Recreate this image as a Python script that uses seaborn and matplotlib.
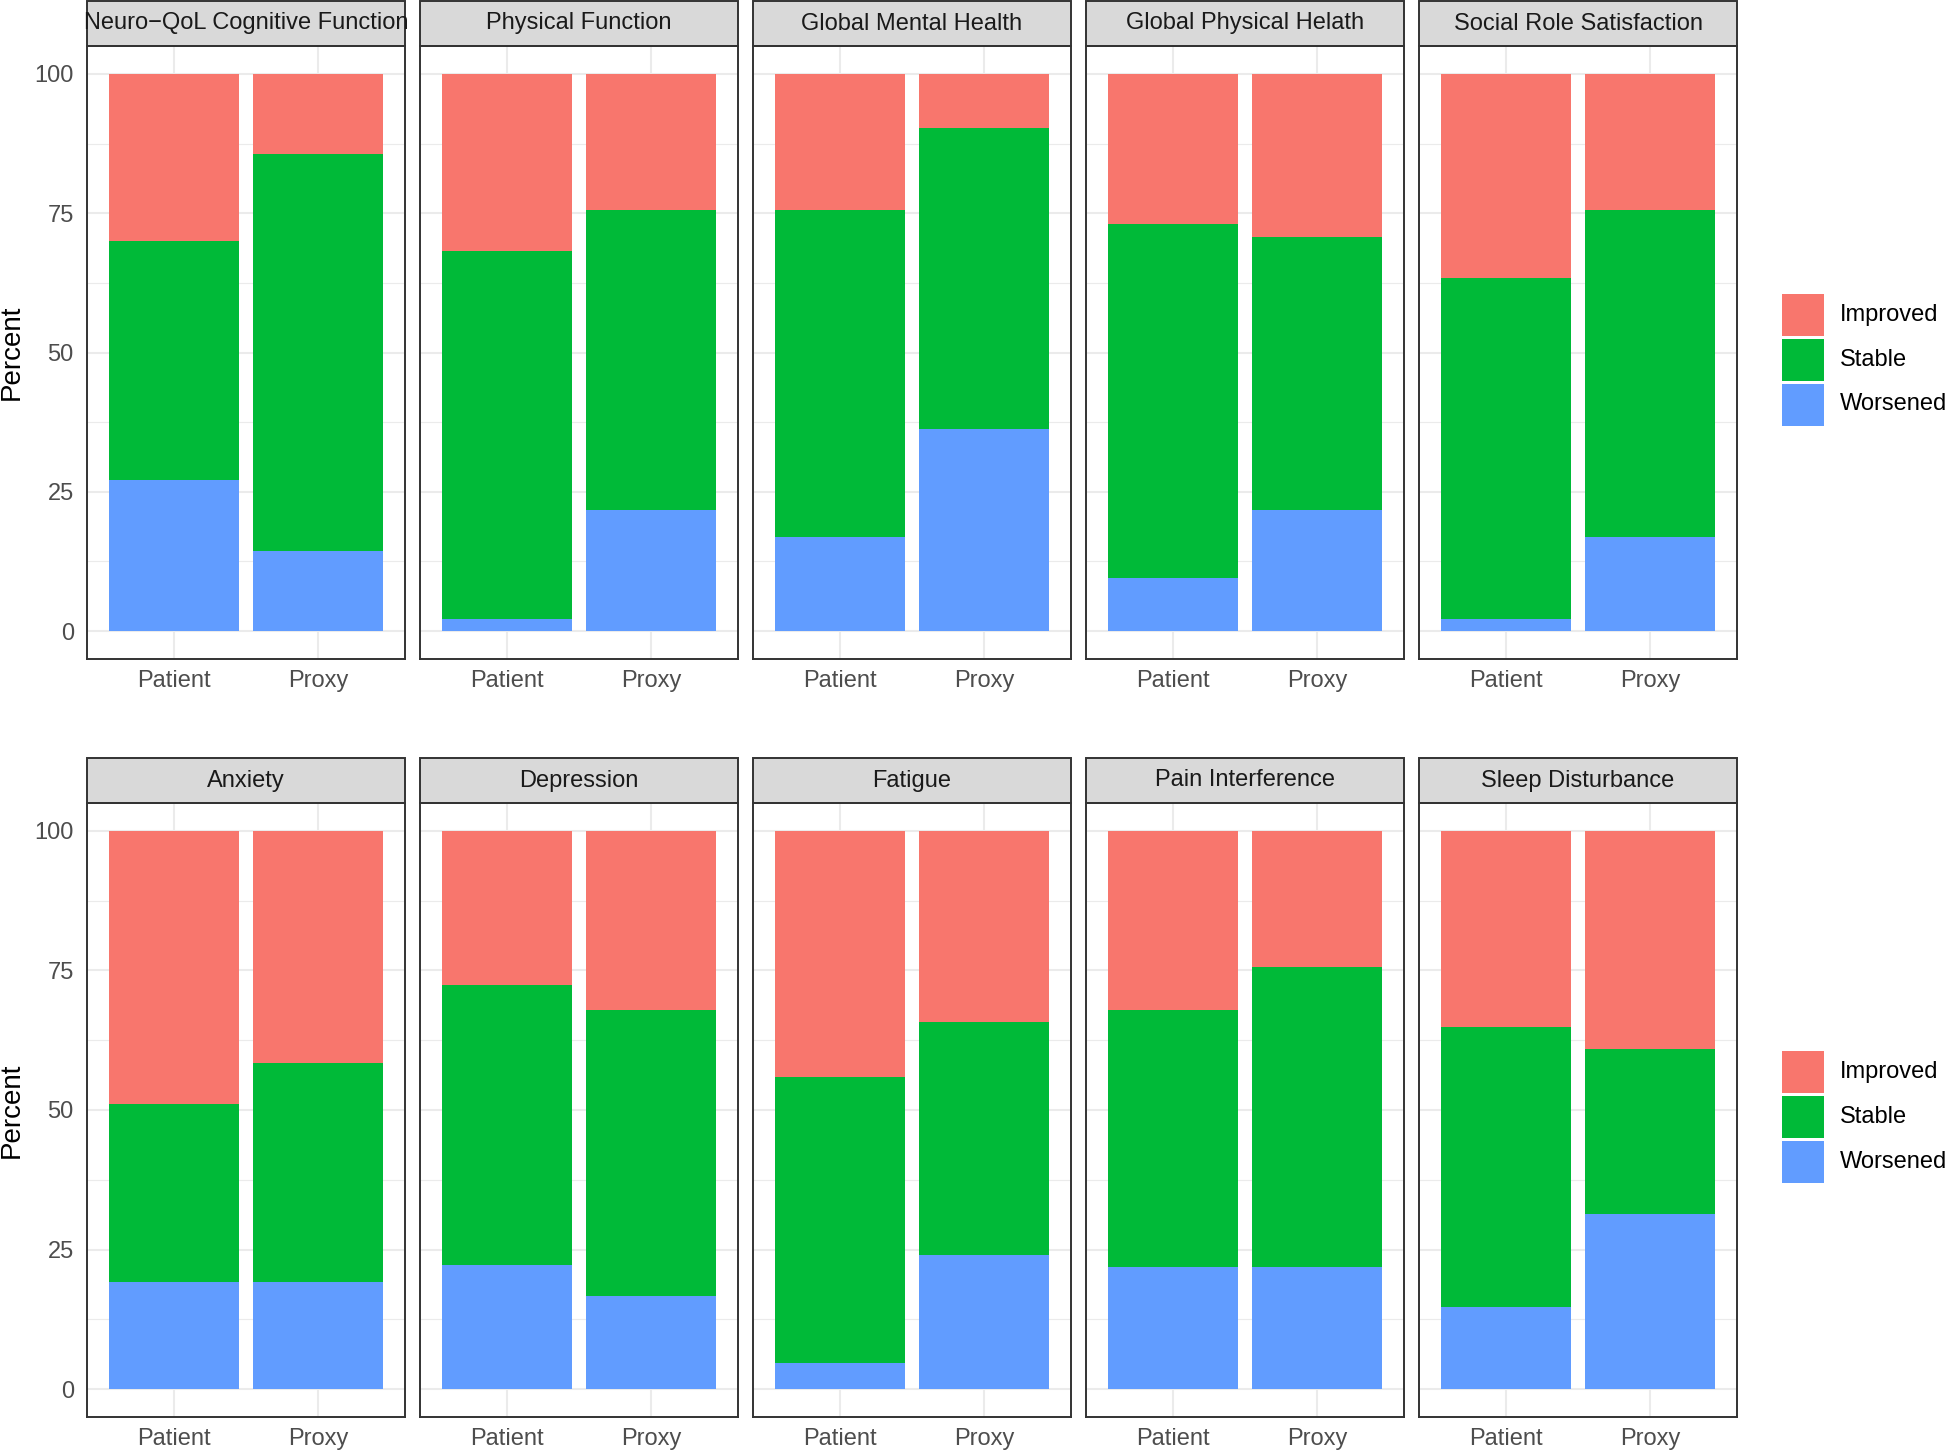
import numpy as np
import pandas as pd
import seaborn as sns
import matplotlib.pyplot as plt
from matplotlib.patches import Rectangle
from matplotlib.ticker import MultipleLocator

# ---------------- data (percent) ----------------
domains = ["Neuro\u2212QoL Cognitive Function", "Physical Function", "Global Mental Health",
           "Global Physical Helath", "Social Role Satisfaction",
           "Anxiety", "Depression", "Fatigue", "Pain Interference", "Sleep Disturbance"]
groups = ["Patient", "Proxy"]

patient_worsened = [27.1, 2.2, 16.9, 9.6, 2.2, 19.1, 22.2, 4.7, 21.8, 14.7]
patient_stable = [42.9, 66.0, 58.7, 63.5, 61.1, 32.0, 50.2, 51.3, 46.2, 50.2]
patient_improved = [30.0, 31.8, 24.4, 26.9, 36.7, 48.9, 27.6, 44.0, 32.0, 35.1]

proxy_worsened = [14.3, 21.8, 36.2, 21.8, 16.9, 19.1, 16.7, 24.0, 21.8, 31.3]
proxy_stable = [71.4, 53.8, 54.0, 48.9, 58.7, 39.3, 51.3, 41.8, 53.8, 29.6]
proxy_improved = [14.3, 24.4, 9.8, 29.3, 24.4, 41.6, 32.0, 34.2, 24.4, 39.1]

statuses = ["Improved", "Stable", "Worsened"]
colors = {"Improved": "#F8766D", "Stable": "#00BA38", "Worsened": "#619CFF"}

rows = []
for i, dom in enumerate(domains):
    rows.append([dom, "Patient", patient_worsened[i], patient_stable[i], patient_improved[i]])
    rows.append([dom, "Proxy", proxy_worsened[i], proxy_stable[i], proxy_improved[i]])
df = pd.DataFrame(rows, columns=["domain", "group", "Worsened", "Stable", "Improved"])
# cumulative heights for stacking
df["cum_w"] = df["Worsened"]
df["cum_s"] = df["Worsened"] + df["Stable"]
df["cum_i"] = df["Worsened"] + df["Stable"] + df["Improved"]

# ---------------- plot ----------------
sns.set_style("white")
plt.rcParams["font.family"] = ["Liberation Sans", "DejaVu Sans"]

W, H = 1946, 1453
fig = plt.figure(figsize=(W / 100, H / 100), dpi=100)
row_px = [(46, 659), (803, 1417)]
strip_h = 45

for i, dom in enumerate(domains):
    r, c = divmod(i, 5)
    top, bot = row_px[r]
    left = 87 + c * 333
    ax = fig.add_axes([left / W, 1 - bot / H, 318 / W, (bot - top) / H])
    d = df[df["domain"] == dom]
    for col, st in [("cum_i", "Improved"), ("cum_s", "Stable"), ("cum_w", "Worsened")]:
        sns.barplot(data=d, x="group", y=col, order=groups, color=colors[st],
                    saturation=1, width=0.9, linewidth=0, errorbar=None, ax=ax)
    ax.set_xlim(-0.6, 1.6)
    ax.set_ylim(-5, 105)
    ax.set_xlabel("")
    ax.set_ylabel("")
    ax.set_yticks([0, 25, 50, 75, 100])
    ax.yaxis.set_minor_locator(MultipleLocator(12.5))
    ax.set_axisbelow(True)
    ax.grid(which="major", color="#EBEBEB", lw=1.5)
    ax.grid(which="minor", axis="y", color="#EBEBEB", lw=0.8)
    for sp in ax.spines.values():
        sp.set_visible(True)
        sp.set_color("#333333")
        sp.set_linewidth(1.4)
    ax.tick_params(which="minor", length=0)
    ax.tick_params(axis="x", length=5, width=1.4, color="#333333", pad=3,
                   labelsize=17, labelcolor="#4D4D4D")
    if c == 0:
        ax.tick_params(axis="y", length=5.5, width=1.4, color="#333333", pad=4,
                       labelsize=17, labelcolor="#4D4D4D")
    else:
        ax.tick_params(axis="y", length=0, labelleft=False)

    # facet strip
    sh = strip_h / (bot - top)
    rect = Rectangle((0, 1), 1, sh, transform=ax.transAxes, clip_on=False,
                     facecolor="#D9D9D9", edgecolor="#333333", lw=1.4)
    ax.add_patch(rect)
    t = ax.text(0.5, 1 + sh / 2, dom, transform=ax.transAxes, ha="center", va="center",
                fontsize=17, color="#1A1A1A")
    t.set_clip_path(rect)

# y axis titles and legends, one per row
for top, bot in row_px:
    yc = (top + bot) / 2
    fig.text(12 / W, 1 - yc / H, "Percent", rotation=90, ha="center", va="center",
             fontsize=20, color="black")
    key_top = yc - 59
    for k, st in enumerate(statuses):
        ky = key_top + k * 45
        fig.patches.append(Rectangle((1782 / W, 1 - (ky + 42) / H), 42 / W, 42 / H,
                                     transform=fig.transFigure, facecolor=colors[st],
                                     edgecolor="none"))
        fig.text(1840 / W, 1 - (ky + 21) / H, st, ha="left", va="center",
                 fontsize=17, color="black")

fig.savefig("out.png", dpi=100)
